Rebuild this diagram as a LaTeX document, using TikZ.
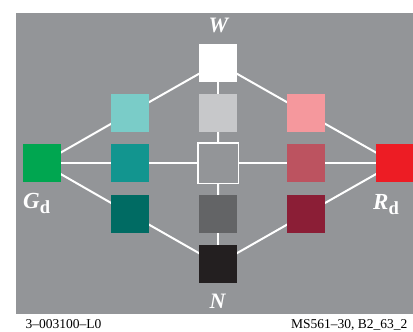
\documentclass[tikz,border=0pt]{standalone}
\usepackage{fontspec}
\setmainfont{Liberation Serif}
\definecolor{bggray}{HTML}{939598}
\definecolor{lteal}{HTML}{7ACCC8}
\definecolor{teal}{HTML}{12958F}
\definecolor{dteal}{HTML}{006B63}
\definecolor{lgray}{HTML}{C7C8CA}
\definecolor{dgray}{HTML}{636466}
\definecolor{nblack}{HTML}{231F20}
\definecolor{pink}{HTML}{F5989D}
\definecolor{mred}{HTML}{BC5360}
\definecolor{dred}{HTML}{8B1E36}
\definecolor{dgreen}{HTML}{00A650}
\definecolor{dred2}{HTML}{ED1C24}
\pgfdeclarelayer{back}
\pgfdeclarelayer{mid}
\pgfsetlayers{back,mid,main}
\begin{document}
\begin{tikzpicture}[x=1pt,y=-1pt,
  sq/.style={minimum size=38pt, inner sep=0pt, outer sep=0pt, draw=none, fill=#1},
  link/.style={white, line width=2pt},
  lbl/.style={text=white, inner sep=0pt, font=\fontsize{22}{22}\selectfont\bfseries\itshape},
  sublbl/.style={text=white, inner sep=0pt, anchor=base west, font=\fontsize{23}{23}\selectfont\bfseries\itshape},
  foot/.style={inner sep=0pt, font=\fontsize{13.5}{13.5}\selectfont}]
\useasboundingbox (0,0) rectangle (413,332);
\begin{pgfonlayer}{back}
\fill[bggray] (16,13) rectangle (414,314);
\end{pgfonlayer}
% squares
\node[sq=white] (w) at (218,63) {};
\node[sq=lgray] (lg) at (218,113) {};
\node[sq=bggray, draw=white, line width=1.5pt, minimum size=40.5pt] (c) at (218.3,163.3) {};
\node[sq=dgray] (dg) at (218,213.8) {};
\node[sq=nblack] (n) at (218,264) {};
\node[sq=lteal] (lt) at (130,113) {};
\node[sq=teal] (t) at (130,163.3) {};
\node[sq=dteal] (dt) at (130,213.8) {};
\node[sq=pink] (p) at (306,113) {};
\node[sq=mred] (m) at (306,163.3) {};
\node[sq=dred] (dr) at (306,213.8) {};
\node[sq=dgreen] (gd) at (42,163.3) {};
\node[sq=dred2] (rd) at (395,163.3) {};
% connectors
\begin{pgfonlayer}{mid}
\draw[link] (w.center) -- (lg.center);
\draw[link] (lg.center) -- (c.center);
\draw[link] (c.center) -- (dg.center);
\draw[link] (dg.center) -- (n.center);
\draw[link] (gd.center) -- (t.center);
\draw[link] (t.center) -- (c.center);
\draw[link] (c.center) -- (m.center);
\draw[link] (m.center) -- (rd.center);
\draw[link] (w.center) -- (lt.center);
\draw[link] (lt.center) -- (gd.center);
\draw[link] (w.center) -- (p.center);
\draw[link] (p.center) -- (rd.center);
\draw[link] (gd.center) -- (dt.center);
\draw[link] (dt.center) -- (n.center);
\draw[link] (n.center) -- (dr.center);
\draw[link] (dr.center) -- (rd.center);
\end{pgfonlayer}
% labels
\node[lbl] (wl) at (218.5,25) {W};
\node[lbl] (nl) at (217.5,301.5) {N};
\node[sublbl] (gl) at (23,208.5) {G\raisebox{-4.5pt}{\fontsize{18.5}{18.5}\selectfont\upshape d}};
\node[sublbl] (rl) at (373,209.5) {R\raisebox{-4.5pt}{\fontsize{18.5}{18.5}\selectfont\upshape d}};
\node[foot, anchor=base west] (f1) at (25.5,328) {3–003100–L0};
\node[foot, anchor=base east] (f2) at (407.5,328) {MS561–30, B2\_63\_2};
\end{tikzpicture}
\end{document}
